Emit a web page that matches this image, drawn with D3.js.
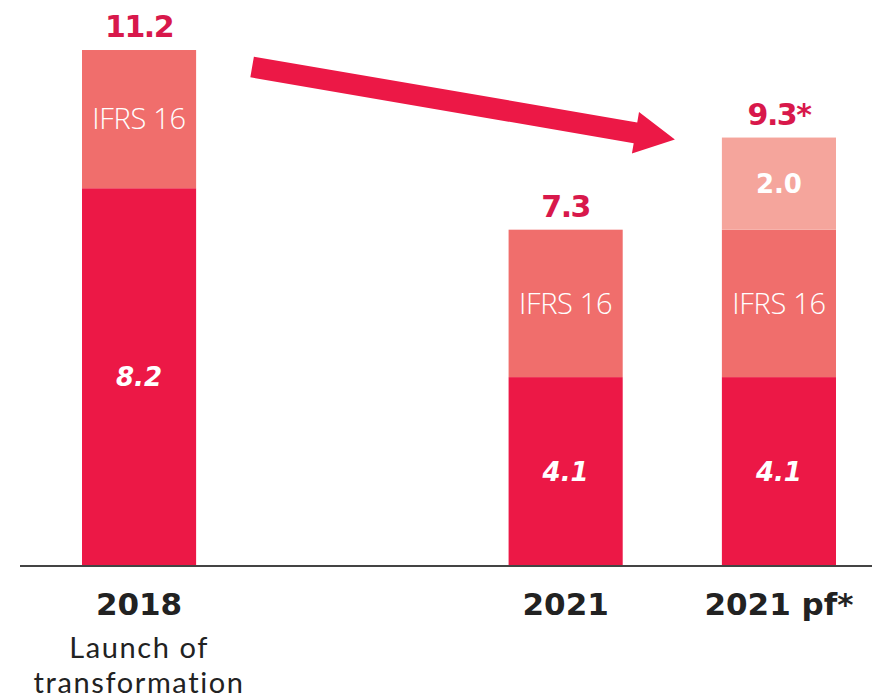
<!DOCTYPE html>
<html><head><meta charset="utf-8">
<script src="https://cdn.jsdelivr.net/npm/d3@7/dist/d3.min.js"></script>
<style>body{margin:0;background:#fff}svg{display:block}</style>
</head><body>
<script>
// Data
const categories = ["2018", "gap", "2021", "2021 pf*"];
const subLabels = {"2018": ["Launch of", "transformation"]};
const baseValues = {"2018": 8.2, "2021": 4.1, "2021 pf*": 4.1};
const ifrsValues = {"2018": 3.0, "2021": 3.2, "2021 pf*": 3.2};
const extraValues = {"2021 pf*": 2.0};
const totalLabels = {"2018": "11.2", "2021": "7.3", "2021 pf*": "9.3*"};
const baseLabels = {"2018": "8.2", "2021": "4.1", "2021 pf*": "4.1"};

const W = 872, H = 700;
const svg = d3.select("body").append("svg").attr("width", W).attr("height", H);

const x = d3.scaleBand().domain(categories).range([82, 836]).paddingInner(0.465).paddingOuter(0);
const y = d3.scaleLinear().domain([0, 12]).range([566, 566 - 12 * 46.07]);

const cats = categories.filter(c => c !== "gap");
const colBase = "#EC1846", colIfrs = "#F06E6C", colExtra = "#F5A59C", colLabel = "#D8184B";

const segs = [];
cats.forEach(c => {
  let y0 = 0;
  segs.push({c, k: "base", y0, y1: y0 + baseValues[c], fill: colBase}); y0 += baseValues[c];
  segs.push({c, k: "ifrs", y0, y1: y0 + ifrsValues[c], fill: colIfrs}); y0 += ifrsValues[c];
  if (extraValues[c] != null) { segs.push({c, k: "extra", y0, y1: y0 + extraValues[c], fill: colExtra}); }
});

svg.append("g").selectAll("rect").data(segs).join("rect")
  .attr("x", d => x(d.c)).attr("width", x.bandwidth())
  .attr("y", d => y(d.y1)).attr("height", d => y(d.y0) - y(d.y1))
  .attr("fill", d => d.fill);

// segment labels
const lab = svg.append("g").attr("text-anchor", "middle").attr("fill", "#fff");
segs.forEach(d => {
  const cx = x(d.c) + x.bandwidth() / 2, cy = (y(d.y0) + y(d.y1)) / 2;
  if (d.k === "base") {
    lab.append("text").attr("x", cx).attr("y", cy).attr("dy", "0.35em")
      .style("font-family", "'DejaVu Sans', sans-serif").style("font-style", "italic").style("font-weight", 600)
      .style("font-size", "26px").text(baseLabels[d.c]);
  } else if (d.k === "ifrs") {
    lab.append("text").attr("x", cx).attr("y", cy).attr("dy", "0.35em")
      .style("font-family", "'Open Sans', sans-serif").style("font-weight", 300)
      .style("font-size", "29px").style("letter-spacing", "-0.3px").text("IFRS 16");
  } else {
    lab.append("text").attr("x", cx).attr("y", cy).attr("dy", "0.35em")
      .style("font-family", "'DejaVu Sans', sans-serif").style("font-weight", 700)
      .style("font-size", "26px").text(extraValues[d.c].toFixed(1));
  }
});

// total labels
svg.append("g").selectAll("text").data(cats).join("text")
  .attr("x", c => x(c) + x.bandwidth() / 2)
  .attr("y", c => y(baseValues[c] + ifrsValues[c] + (extraValues[c] || 0)) - 13)
  .attr("text-anchor", "middle").attr("fill", colLabel)
  .style("font-family", "'DejaVu Sans', sans-serif").style("font-weight", 700).style("font-size", "30px")
  .style("letter-spacing", "-1.5px")
  .text(c => totalLabels[c]);

// axis line
svg.append("line").attr("x1", 20).attr("x2", W).attr("y1", y(0)).attr("y2", y(0))
  .attr("stroke", "#444").attr("stroke-width", 2);

// category labels
const cl = svg.append("g").attr("text-anchor", "middle").attr("fill", "#222");
cats.forEach(c => {
  const cx = x(c) + x.bandwidth() / 2;
  cl.append("text").attr("x", cx).attr("y", y(0) + 49)
    .style("font-family", "'DejaVu Sans', sans-serif").style("font-weight", 700).style("font-size", "31px")
    .text(c);
  (subLabels[c] || []).forEach((s, i) => {
    cl.append("text").attr("x", cx).attr("y", y(0) + 92 + i * 35)
      .style("font-family", "Lato, sans-serif").style("font-weight", 400).style("font-size", "29px")
      .style("letter-spacing", "1.6px")
      .text(s);
  });
});

// arrow from 2018 total towards 2021 pf total
const total2018 = baseValues["2018"] + ifrsValues["2018"];
const totalPf = baseValues["2021 pf*"] + ifrsValues["2021 pf*"] + extraValues["2021 pf*"];
const sx = x("2018") + x.bandwidth() + 56, sy = y(total2018) + 17;
const ex = x("2021 pf*") - 47, ey = y(totalPf) + 2;
const ang = Math.atan2(ey - sy, ex - sx), len = Math.hypot(ex - sx, ey - sy);
const shaftW = 21, headW = 42, headL = 40;
const pts = [[0, -shaftW/2], [len - headL, -shaftW/2], [len - headL, -headW/2], [len, 0],
             [len - headL, headW/2], [len - headL, shaftW/2], [0, shaftW/2]];
svg.append("path")
  .attr("d", d3.line()(pts))
  .attr("transform", `translate(${sx},${sy}) rotate(${ang * 180 / Math.PI})`)
  .attr("fill", colBase);
</script>
</body></html>
